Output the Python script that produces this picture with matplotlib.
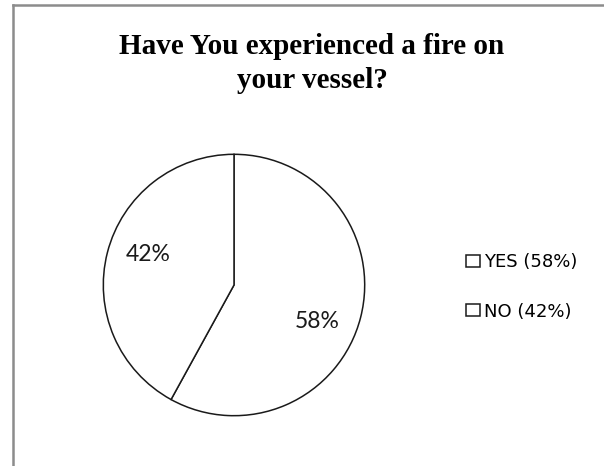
import matplotlib.pyplot as plt
from matplotlib.lines import Line2D

# survey answers
answers = ['YES', 'NO']
shares = [58, 42]
legend_labels = ['YES (58%)', 'NO (42%)']
title_lines = ['Have You experienced a fire on', 'your vessel?']

fig = plt.figure(figsize=(6.04, 4.66), dpi=100)

# gray chart-area border (left and top edges only visible)
fig.add_artist(Line2D([12.5 / 604, 12.5 / 604], [0, 1 - 5 / 466], color='#8c8c8c', lw=1.8))
fig.add_artist(Line2D([12.5 / 604, 1], [1 - 5 / 466, 1 - 5 / 466], color='#8c8c8c', lw=1.8))

# title in bold serif, one text per line so the baselines land right
for line, base in zip(title_lines, [54, 88]):
    fig.text(312 / 604, 1 - base / 466, line, ha='center', va='baseline',
             fontsize=21, fontweight='bold', family='Liberation Serif')

# pie axes placed so the circle sits where the original one is
cx, cy, r = 234, 285, 132
w, h = 2 * r / 604, 2 * r / 466
ax = fig.add_axes([cx / 604 - w / 2, (466 - cy) / 466 - h / 2, w, h])
wedges, texts, autotexts = ax.pie(shares, startangle=90, counterclock=False,
                                   colors=['white', 'white'],
                                   autopct='%d%%', pctdistance=0.7,
                                   wedgeprops=dict(edgecolor='#1a1a1a', linewidth=1.1))
ax.set_xlim(-1.01, 1.01)
ax.set_ylim(-1.01, 1.01)
ax.axis('off')

# nudge the percentage labels to where Excel put them
label_pos = [(0.636, -0.28), (-0.659, 0.235)]
for t, p in zip(autotexts, label_pos):
    t.set_position(p)
    t.set_fontsize(16.5)
    t.set_family('Lato')
    t.set_color('#1a1a1a')

fig.legend(wedges, legend_labels, loc='upper left',
           bbox_to_anchor=(466 / 604, 1 - 253 / 466), frameon=False,
           borderpad=0, borderaxespad=0, handlelength=0.78, handleheight=0.67,
           handletextpad=0.2, labelspacing=1.75,
           prop={'family': 'DejaVu Sans', 'size': 13})

fig.savefig('out.png', dpi=100)
